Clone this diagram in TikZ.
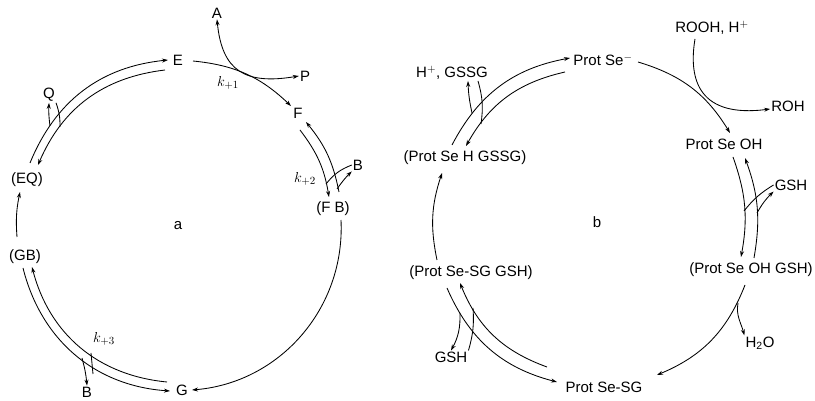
\documentclass[tikz,border=0pt]{standalone}
\usepackage{fontspec}
\setmainfont{Liberation Sans}
\usetikzlibrary{arrows.meta}

\begin{document}
\begin{tikzpicture}[x=1pt,y=1pt,
    lbl/.style={inner sep=1pt, font=\fontsize{15}{17}\selectfont},
    rate/.style={inner sep=1pt, font=\fontsize{15}{17}\selectfont},
    flow/.style={line width=0.85pt, -{Stealth[length=6pt,width=4pt]}},
    both/.style={line width=0.85pt, {Stealth[length=6pt,width=4pt]}-{Stealth[length=6pt,width=4pt]}},
    bind/.style={line width=0.85pt}]
\useasboundingbox (0,0) rectangle (815,401);

\node[lbl] (E) at (178,341) {E};
\node[lbl] (F) at (298,288) {F};
\node[lbl] (A) at (217,388) {A};
\node[lbl] (P) at (305,325) {P};
\node[lbl] (FB) at (333,192) {(F B)};
\node[lbl] (Bf) at (358,236) {B};
\node[lbl] (G) at (182,11) {G};
\node[lbl] (Bg) at (87,9) {B};
\node[lbl] (GB) at (25,144) {(GB)};
\node[lbl] (EQ) at (27,221) {(EQ)};
\node[lbl] (Q) at (49,306) {Q};
\node[rate] (k1) at (228,318) {$k_{+1}$};
\node[rate] (k2) at (305,222) {$k_{+2}$};
\node[rate] (k3) at (104,62) {$k_{+3}$};
\node[lbl] (a) at (178,175) {a};

\coordinate (ef1) at (193,340);
\coordinate (ef2) at (291,295);
\draw[flow] (ef1) to[bend left=19] (ef2);
\draw[both] (A.south) .. controls (222,330) and (245,316) .. (P.west);

\coordinate (fo1) at (339,209);
\coordinate (fo2) at (306,279);
\coordinate (fi1) at (300,271);
\coordinate (fi2) at (329,204);
\draw[flow] (fo1) to[bend right=14] (fo2);
\draw[flow] (fi1) to[bend left=14] (fi2);
\coordinate (bfi) at (326,217);
\coordinate (bfo) at (337,212);
\draw[bind] (Bf.west) to[bend right=15] (bfi);
\draw[flow] (bfo) to[bend left=5] (Bf.south west);

\coordinate (fg1) at (341,181);
\coordinate (fg2) at (192,11);
\draw[flow] (fg1) to[bend left=44] (fg2);

\coordinate (go1) at (23,133);
\coordinate (go2) at (170,10);
\coordinate (gi1) at (167,19);
\coordinate (gi2) at (32,134);
\draw[flow] (go1) to[bend right=36] (go2);
\draw[flow] (gi1) to[bend left=35] (gi2);
\coordinate (bgo) at (82,43);
\coordinate (bgi) at (91,48);
\coordinate (bgj) at (93,27);
\draw[flow] (bgo) to[bend left=5] (Bg.north);
\draw[bind] (bgj) -- (bgi);

\coordinate (ge1) at (17,164);
\coordinate (ge2) at (20,209);
\draw[flow] (ge1) to[bend left=8] (ge2);

\coordinate (eo1) at (30,238);
\coordinate (eo2) at (168,341);
\coordinate (ei1) at (165,331);
\coordinate (ei2) at (38,236);
\draw[flow] (eo1) to[bend left=31] (eo2);
\draw[flow] (ei1) to[bend right=30] (ei2);
\coordinate (qo) at (50,275);
\coordinate (qi) at (60,274);
\draw[flow] (qo) to[bend left=5] (Q.south);
\draw[bind] (Q.south east) to[bend left=10] (qi);

\node[lbl] (pse) at (603,341) {Prot Se$^{-}$};
\node[lbl] (rooh) at (712,373) {ROOH, H$^{+}$};
\node[lbl] (roh) at (788,295) {ROH};
\node[lbl] (pseoh) at (724,257) {Prot Se OH};
\node[lbl] (gsha) at (791,216) {GSH};
\node[lbl] (pseohgsh) at (751,131) {(Prot Se OH GSH)};
\node[lbl] (water) at (760,58) {H\textsubscript{2}O};
\node[lbl] (psesg) at (604,14) {Prot Se-SG};
\node[lbl] (gshb) at (451,44) {GSH};
\node[lbl] (psesggsh) at (471,128) {(Prot Se-SG GSH)};
\node[lbl] (psehgssg) at (465,243) {(Prot Se H GSSG)};
\node[lbl] (hgssg) at (452,328) {H$^{+}$, GSSG};
\node[lbl] (b) at (597,179) {b};

\coordinate (po1) at (638,339);
\coordinate (po2) at (730,268);
\draw[flow] (po1) to[bend left=21] (po2);
\coordinate (rs) at (695,362);
\draw[flow] (rs) .. controls (688,320) and (700,283) .. ([yshift=-3pt]roh.west);

\coordinate (oi1) at (733,244);
\coordinate (oi2) at (741,144);
\coordinate (oo1) at (754,143);
\coordinate (oo2) at (745,243);
\draw[flow] (oi1) to[bend left=15] (oi2);
\draw[flow] (oo1) to[bend right=15] (oo2);
\coordinate (gai) at (744,190);
\coordinate (gao) at (757,188);
\draw[bind] (gsha.west) to[bend right=10] (gai);
\draw[flow] (gao) to[bend left=8] (gsha.south west);

\coordinate (os1) at (745,116);
\coordinate (os2) at (657,26);
\draw[flow] (os1) to[bend left=23] (os2);
\coordinate (ow) at (738,98);
\draw[flow] (ow) to[out=-100,in=105] (water.north west);

\coordinate (so1) at (447,113);
\coordinate (so2) at (557,19);
\coordinate (si1) at (547,34);
\coordinate (si2) at (460,118);
\draw[flow] (so1) to[bend right=26] (so2);
\draw[flow] (si1) to[bend left=24] (si2);
\coordinate (gbo) at (460,88);
\coordinate (gbi) at (473,93);
\draw[flow] (gbo) to[bend left=15] (gshb.north);
\draw[bind] (gshb.north east) to[bend right=10] (gbi);

\coordinate (sh1) at (437,141);
\coordinate (sh2) at (442,228);
\draw[flow] (sh1) to[bend left=15] (sh2);

\coordinate (ho1) at (452,256);
\coordinate (ho2) at (570,343);
\coordinate (hi1) at (565,329);
\coordinate (hi2) at (466,255);
\draw[flow] (ho1) to[bend left=26] (ho2);
\draw[flow] (hi1) to[bend right=24] (hi2);
\coordinate (hgo) at (472,288);
\coordinate (hgi) at (481,277);
\draw[flow] (hgo) to[bend left=5] ([xshift=16pt]hgssg.south);
\draw[bind] ([xshift=26pt]hgssg.south) to[bend left=12] (hgi);
\end{tikzpicture}
\end{document}
